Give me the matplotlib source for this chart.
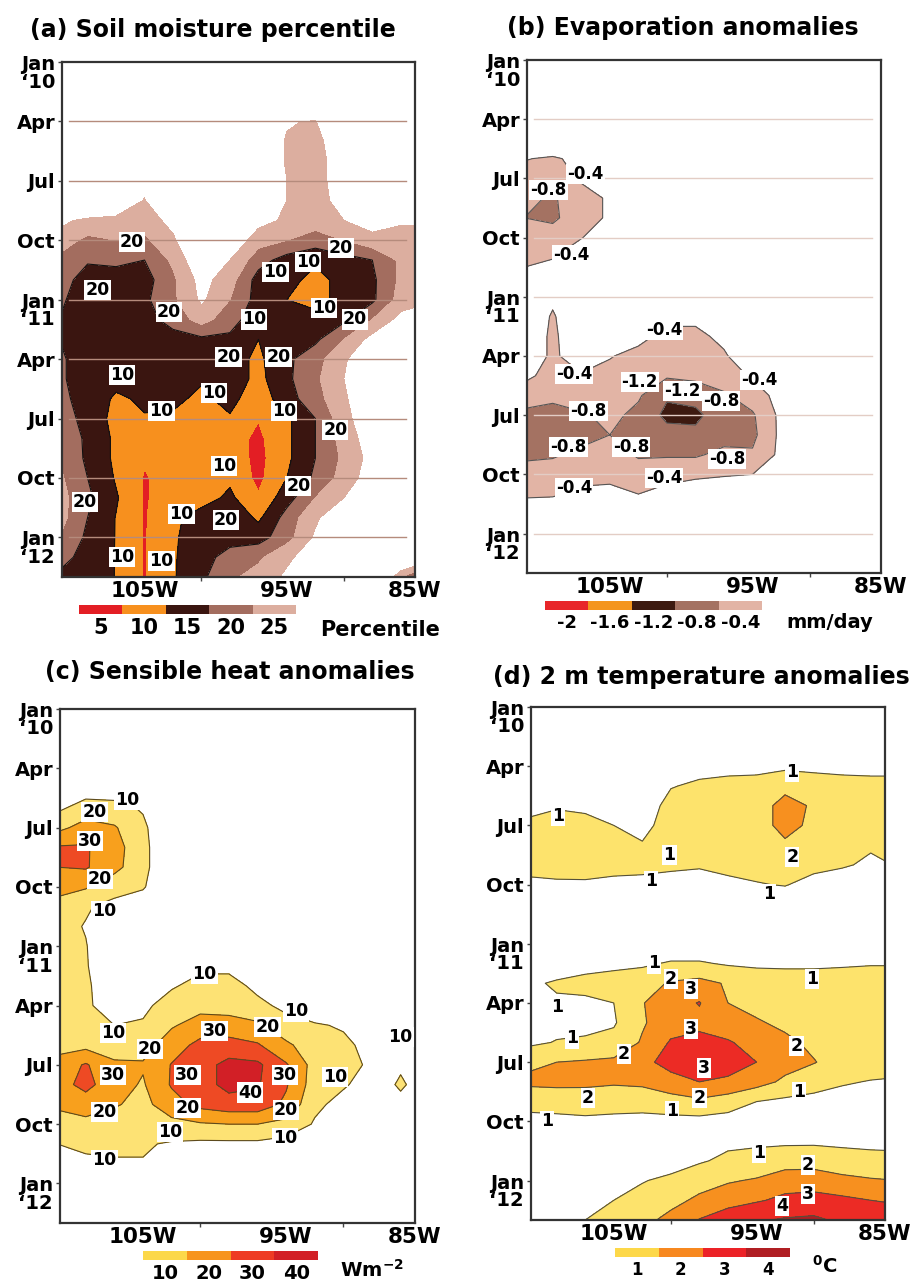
import numpy as np
import matplotlib
matplotlib.use("Agg")
import matplotlib.pyplot as plt
from matplotlib.colors import ListedColormap, BoundaryNorm
from matplotlib.cm import ScalarMappable
from matplotlib.transforms import ScaledTranslation

plt.rcParams["font.family"] = ["DejaVu Sans"]
plt.rcParams["font.weight"] = "bold"

# ------------------------------------------------------------
# grid: longitude (deg E) x month since Jan 2010
# ------------------------------------------------------------
lons = [-110, -108, -106, -104, -102, -100, -98, -96, -94, -92, -90, -88, -86, -84]
months = [0, 1, 2, 3, 4, 5, 6, 7, 8, 9, 10, 11, 12, 13, 14, 15, 16, 17, 18, 19, 20,
          21, 22, 23, 24, 25, 26]

month_ticks = [0, 3, 6, 9, 12, 15, 18, 21, 24]
month_labels = ["Jan\n\u201810", "Apr", "Jul", "Oct", "Jan\n\u201811", "Apr", "Jul", "Oct",
                "Jan\n\u201812"]
lon_label_pos = [-104, -94, -85]
lon_labels = ["105W", "95W", "85W"]
lon_minor = [-100, -90]

# (a) soil moisture percentile
soil_pct = [
    [40, 40, 40, 40, 40, 40, 40, 40, 40, 40, 40, 40, 40, 40],
    [40, 40, 40, 40, 40, 40, 40, 40, 40, 40, 40, 40, 40, 40],
    [40, 40, 40, 40, 40, 40, 40, 40, 40, 40, 40, 40, 40, 40],
    [40, 40, 40, 40, 40, 40, 40, 40, 25.5, 24.5, 40, 40, 40, 40],
    [40, 40, 40, 40, 40, 40, 40, 30, 24.5, 23, 30, 40, 40, 40],
    [40, 40, 40, 40, 40, 40, 40, 30, 24.5, 23, 28, 40, 40, 40],
    [40, 40, 40, 28, 40, 40, 40, 30, 25, 23, 28, 40, 40, 40],
    [40, 40, 32, 24.5, 40, 40, 40, 29, 25, 23, 27, 40, 40, 40],
    [27, 23, 23, 22, 27, 40, 34, 27, 24, 22, 25, 28, 26, 27],
    [22, 19, 20, 19, 24, 34, 30, 22, 20, 18, 20, 23, 22, 20],
    [19, 15.5, 16, 15, 21, 30, 25, 17, 13, 10.5, 13, 15, 21, 19],
    [17, 13, 13, 13, 19, 27, 22, 13, 11, 9, 11, 14, 21, 20],
    [16, 12, 12, 14, 19, 26, 20, 13, 10, 9, 11, 14, 22, 24],
    [15, 12, 12, 13, 17, 22, 17, 12, 11.5, 11, 14, 20, 27, 30],
    [15, 11, 12, 12, 13, 14, 14, 10, 12, 14, 20, 27, 32, 32],
    [16, 12, 11, 12, 12, 12, 12, 9, 14, 18, 24, 32, 40, 40],
    [16, 12, 11, 12, 12, 10.5, 13, 8.5, 14, 19, 25, 33, 40, 40],
    [17, 12, 9.5, 10.5, 11, 9, 11.5, 7, 13, 18, 24, 31, 40, 40],
    [18, 13, 8.5, 9.8, 9.3, 8, 9.5, 5.2, 9, 15, 23, 30, 40, 40],
    [19, 14, 9, 7, 7, 7, 7, 4, 9, 15, 22, 28, 40, 40],
    [20, 14, 9, 5.5, 7, 7, 8, 3.5, 9, 15, 21, 27, 40, 40],
    [21, 15, 9.5, 4.6, 7, 8, 9, 3.8, 10, 16, 22, 28, 40, 40],
    [22, 16, 10.5, 4.6, 7, 8, 11, 5.5, 13, 20, 25, 32, 40, 40],
    [22, 15, 9.8, 4.6, 9, 12, 14, 9, 17, 24, 30, 36, 40, 40],
    [20, 14, 9.8, 4.6, 9.5, 12, 13, 13, 18, 26, 32, 40, 40, 40],
    [17, 13, 9.8, 4.6, 9.5, 13, 17, 19, 24, 28, 34, 40, 36, 30],
    [14, 13, 9.8, 4.6, 9.5, 14, 19, 22, 26, 30, 36, 40, 20, 8],
]

# (b) evaporation anomalies, mm/day
evap_anom = [
    [0, 0, 0, 0, 0, 0, 0, 0, 0, 0, 0, 0, 0, 0],
    [0, 0, 0, 0, 0, 0, 0, 0, 0, 0, 0, 0, 0, 0],
    [0, 0, 0, 0, 0, 0, 0, 0, 0, 0, 0, 0, 0, 0],
    [0, 0, 0, 0, 0, 0, 0, 0, 0, 0, 0, 0, 0, 0],
    [0, 0, 0, 0, 0, 0, 0, 0, 0, 0, 0, 0, 0, 0],
    [-0.38, -0.45, -0.3, 0, 0, 0, 0, 0, 0, 0, 0, 0, 0, 0],
    [-0.55, -0.6, -0.35, -0.1, 0, 0, 0, 0, 0, 0, 0, 0, 0, 0],
    [-0.7, -0.85, -0.55, -0.35, 0, 0, 0, 0, 0, 0, 0, 0, 0, 0],
    [-0.8, -0.88, -0.55, -0.35, 0, 0, 0, 0, 0, 0, 0, 0, 0, 0],
    [-0.6, -0.6, -0.42, -0.1, 0, 0, 0, 0, 0, 0, 0, 0, 0, 0],
    [-0.5, -0.42, -0.1, 0, 0, 0, 0, 0, 0, 0, 0, 0, 0, 0],
    [-0.3, -0.2, 0, 0, 0, 0, 0, 0, 0, 0, 0, 0, 0, 0],
    [0, -0.3, 0, 0, 0, 0, 0, 0, 0, 0, 0, 0, 0, 0],
    [0, -0.45, 0, 0, 0, -0.3, -0.3, 0, 0, 0, 0, 0, 0, 0],
    [0, -0.5, 0, 0, -0.3, -0.5, -0.5, -0.3, 0, 0, 0, 0, 0, 0],
    [0, -0.5, -0.1, -0.38, -0.5, -0.6, -0.6, -0.45, -0.1, 0, 0, 0, 0, 0],
    [-0.3, -0.55, -0.45, -0.5, -0.6, -0.75, -0.7, -0.6, -0.35, 0, 0, 0, 0, 0],
    [-0.6, -0.7, -0.6, -0.6, -0.75, -1.15, -1.05, -0.85, -0.6, -0.25, 0, 0, 0, 0],
    [-0.9, -0.95, -0.85, -0.7, -0.9, -1.3, -1.3, -0.95, -0.85, -0.3, 0, 0, 0, 0],
    [-1.0, -1.0, -0.95, -0.8, -0.9, -1.05, -1.1, -0.95, -0.9, -0.3, 0, 0, 0, 0],
    [-0.9, -0.85, -0.7, -0.6, -0.85, -0.85, -0.85, -0.7, -0.75, -0.3, 0, 0, 0, 0],
    [-0.6, -0.6, -0.55, -0.5, -0.6, -0.5, -0.5, -0.45, -0.4, -0.1, 0, 0, 0, 0],
    [-0.45, -0.45, -0.3, -0.3, -0.4, -0.3, -0.1, 0, 0, 0, 0, 0, 0, 0],
    [-0.2, -0.1, 0, 0, 0, 0, 0, 0, 0, 0, 0, 0, 0, 0],
    [0, 0, 0, 0, 0, 0, 0, 0, 0, 0, 0, 0, 0, 0],
    [0, 0, 0, 0, 0, 0, 0, 0, 0, 0, 0, 0, 0, 0],
    [0, 0, 0, 0, 0, 0, 0, 0, 0, 0, 0, 0, 0, 0],
]

# (c) sensible heat anomalies, W m-2
sens_anom = [
    [0, 0, 0, 0, 0, 0, 0, 0, 0, 0, 0, 0, 0, 0],
    [0, 0, 0, 0, 0, 0, 0, 0, 0, 0, 0, 0, 0, 0],
    [0, 0, 0, 0, 0, 0, 0, 0, 0, 0, 0, 0, 0, 0],
    [0, 0, 0, 0, 0, 0, 0, 0, 0, 0, 0, 0, 0, 0],
    [0, 5, 5, 0, 0, 0, 0, 0, 0, 0, 0, 0, 0, 0],
    [8, 14, 13, 9, 0, 0, 0, 0, 0, 0, 0, 0, 0, 0],
    [17, 24, 21, 12, 0, 0, 0, 0, 0, 0, 0, 0, 0, 0],
    [31, 31, 24, 13, 0, 0, 0, 0, 0, 0, 0, 0, 0, 0],
    [30, 31, 23, 13, 0, 0, 0, 0, 0, 0, 0, 0, 0, 0],
    [24, 21, 14, 11, 0, 0, 0, 0, 0, 0, 0, 0, 0, 0],
    [16, 11, 7, 4, 0, 0, 0, 0, 0, 0, 0, 0, 0, 0],
    [13, 9.5, 4, 0, 0, 0, 0, 0, 0, 0, 0, 0, 0, 0],
    [14, 10.4, 3, 0, 0, 0, 0, 0, 0, 0, 0, 0, 0, 0],
    [15, 10.6, 4, 0, 3, 8, 8, 2, 0, 0, 0, 0, 0, 0],
    [15, 11, 6, 4, 9, 13, 13, 8, 3, 0, 0, 0, 0, 0],
    [14, 11, 7, 8, 14, 17, 16, 12, 8, 3, 0, 0, 0, 0],
    [14, 12, 10, 11, 19, 24, 24, 22, 13, 11, 9, 2, 0, 0],
    [16, 17, 14, 16, 25, 33, 34, 31, 22, 14, 12, 7, 0, 0],
    [24, 31, 22, 21, 30.5, 36, 43, 42, 31, 16, 12, 9, 9, 4],
    [26, 33, 24, 19, 31, 36, 43, 41, 31, 15, 11, 6, 11, 6],
    [22, 25, 21, 17, 26, 33, 36, 36, 28, 12, 7, 3, 8, 4],
    [15, 17, 15, 13, 17, 19, 20, 20, 17, 9, 3, 0, 0, 0],
    [10, 12, 12, 11, 9, 8, 8, 8, 6, 2, 0, 0, 0, 0],
    [6, 8, 9, 9.5, 5, 0, 0, 0, 0, 0, 0, 0, 0, 0],
    [0, 0, 0, 0, 0, 0, 0, 0, 0, 0, 0, 0, 0, 0],
    [0, 0, 0, 0, 0, 0, 0, 0, 0, 0, 0, 0, 0, 0],
    [0, 0, 0, 0, 0, 0, 0, 0, 0, 0, 0, 0, 0, 0],
]

# (d) 2 m temperature anomalies, deg C
t2m_anom = [
    [0.3, 0.3, 0.3, 0.3, 0.3, 0.3, 0.3, 0.3, 0.3, 0.3, 0.3, 0.3, 0.3, 0.3],
    [0.3, 0.3, 0.3, 0.3, 0.3, 0.3, 0.3, 0.3, 0.3, 0.3, 0.3, 0.3, 0.3, 0.3],
    [0.4, 0.4, 0.4, 0.4, 0.4, 0.4, 0.4, 0.4, 0.4, 0.4, 0.4, 0.4, 0.4, 0.4],
    [0.3, 0.3, 0.3, 0.3, 0.3, 0.6, 0.7, 0.8, 0.8, 0.8, 0.8, 0.8, 0.8, 0.8],
    [0.3, 0.3, 0.3, 0.3, 0.3, 0.95, 1.15, 1.2, 1.25, 1.75, 1.4, 1.25, 1.2, 1.2],
    [0.7, 0.9, 0.8, 0.6, 0.5, 1.3, 1.45, 1.5, 1.6, 2.3, 1.9, 1.5, 1.45, 1.45],
    [1.2, 1.4, 1.3, 1.0, 0.8, 1.3, 1.5, 1.6, 1.6, 2.3, 1.8, 1.6, 1.5, 1.5],
    [1.4, 1.5, 1.5, 1.3, 1.05, 1.3, 1.4, 1.5, 1.5, 1.85, 1.5, 1.3, 1.1, 1.4],
    [1.3, 1.4, 1.3, 1.2, 1.2, 1.15, 1.1, 1.3, 1.3, 1.3, 1.25, 1.1, 0.85, 1.05],
    [0.8, 0.85, 0.9, 0.85, 0.8, 0.7, 0.6, 0.75, 0.95, 1.05, 0.7, 0.5, 0.4, 0.4],
    [0.4, 0.4, 0.4, 0.4, 0.4, 0.4, 0.4, 0.4, 0.4, 0.4, 0.4, 0.4, 0.4, 0.4],
    [0.3, 0.3, 0.3, 0.3, 0.3, 0.3, 0.3, 0.3, 0.3, 0.3, 0.3, 0.3, 0.3, 0.3],
    [0.3, 0.3, 0.3, 0.3, 0.3, 0.3, 0.3, 0.3, 0.3, 0.3, 0.3, 0.3, 0.3, 0.3],
    [0.4, 0.5, 0.7, 0.8, 0.85, 1.1, 1.1, 0.9, 0.85, 0.85, 0.85, 0.9, 0.95, 0.95],
    [0.85, 1.1, 1.25, 1.35, 1.6, 2.1, 2.3, 1.9, 1.5, 1.4, 1.4, 1.4, 1.4, 1.4],
    [0.6, 0.9, 0.85, 1.0, 1.95, 2.6, 3.05, 2.0, 1.7, 1.5, 1.5, 1.5, 1.5, 1.5],
    [0.55, 0.7, 0.8, 0.9, 1.9, 2.55, 2.75, 2.4, 2.1, 1.8, 1.6, 1.5, 1.5, 1.5],
    [0.8, 1.05, 1.1, 1.3, 2.1, 3.1, 3.3, 3.1, 2.6, 2.2, 1.8, 1.5, 1.5, 1.5],
    [1.8, 2.0, 2.1, 2.2, 2.7, 3.4, 3.6, 3.5, 3.0, 2.4, 2.05, 1.6, 1.5, 1.5],
    [2.2, 2.25, 2.2, 2.1, 2.2, 2.6, 3.0, 2.8, 2.4, 1.8, 1.4, 1.1, 0.95, 0.85],
    [1.35, 1.4, 1.5, 1.5, 1.4, 1.6, 1.8, 1.5, 1.0, 0.8, 0.7, 0.6, 0.5, 0.5],
    [0.7, 0.75, 0.8, 0.7, 0.7, 0.7, 0.7, 0.6, 0.5, 0.4, 0.4, 0.4, 0.4, 0.4],
    [0.3, 0.3, 0.3, 0.3, 0.3, 0.3, 0.5, 0.8, 0.85, 0.85, 0.85, 0.85, 0.8, 0.8],
    [0.3, 0.3, 0.3, 0.3, 0.4, 0.6, 0.9, 1.2, 1.3, 1.5, 1.55, 1.3, 1.25, 1.2],
    [0.3, 0.3, 0.4, 0.6, 0.95, 1.2, 1.6, 1.9, 2.1, 2.6, 2.6, 2.3, 2.1, 2.0],
    [0.3, 0.4, 0.7, 1.0, 1.3, 1.7, 2.2, 2.6, 2.9, 3.2, 3.3, 3.2, 3.0, 2.9],
    [0.6, 0.8, 1.0, 1.3, 1.7, 2.3, 3.05, 3.6, 3.9, 4.1, 4.2, 3.8, 3.5, 3.4],
]

# contour labels (lon, month, text)
soil_labels = [
    (-104.9, 9.1, "20"), (-107.3, 11.5, "20"), (-102.3, 12.6, "20"), (-96.3, 13.0, "10"),
    (-94.8, 10.6, "10"), (-92.5, 10.1, "10"), (-90.2, 9.4, "20"), (-91.4, 12.4, "10"),
    (-89.2, 13.0, "20"), (-98.1, 14.9, "20"), (-94.6, 14.9, "20"), (-105.6, 15.8, "10"),
    (-99.1, 16.7, "10"), (-102.8, 17.6, "10"), (-94.2, 17.6, "10"), (-90.6, 18.6, "20"),
    (-98.4, 20.4, "10"), (-93.2, 21.4, "20"), (-108.2, 22.2, "20"), (-101.4, 22.8, "10"),
    (-98.3, 23.1, "20"), (-105.6, 25.0, "10"), (-102.8, 25.2, "10"),
]
evap_labels = [
    (-108.3, 6.6, "-0.8"), (-105.7, 5.8, "-0.4"), (-106.7, 9.9, "-0.4"),
    (-100.2, 13.7, "-0.4"), (-106.5, 15.9, "-0.4"), (-101.9, 16.3, "-1.2"),
    (-98.9, 16.8, "-1.2"), (-93.5, 16.2, "-0.4"), (-96.2, 17.3, "-0.8"),
    (-105.5, 17.8, "-0.8"), (-106.9, 19.6, "-0.8"), (-102.5, 19.6, "-0.8"),
    (-95.8, 20.2, "-0.8"), (-106.5, 21.7, "-0.4"), (-100.2, 21.2, "-0.4"),
]
sens_labels = [
    (-107.4, 5.2, "20"), (-105.1, 4.6, "10"), (-107.7, 6.7, "30"), (-107.0, 8.6, "20"),
    (-106.7, 10.2, "10"), (-99.7, 13.4, "10"), (-106.1, 16.4, "10"), (-93.3, 15.3, "10"),
    (-103.5, 17.2, "20"), (-99.0, 16.3, "30"), (-95.3, 16.1, "20"), (-86.0, 16.6, "10"),
    (-106.1, 18.5, "30"), (-100.9, 18.5, "30"), (-94.1, 18.5, "30"), (-90.6, 18.6, "10"),
    (-96.5, 19.4, "40"), (-106.7, 20.4, "20"), (-100.9, 20.2, "20"), (-94.0, 20.3, "20"),
    (-102.1, 21.4, "10"), (-94.1, 21.7, "10"), (-106.7, 22.8, "10"),
]
t2m_labels = [
    (-107.9, 5.5, "1"), (-100.1, 7.5, "1"), (-101.4, 8.8, "1"), (-93.1, 9.5, "1"),
    (-91.5, 3.3, "1"), (-91.5, 7.6, "2"), (-101.2, 13.0, "1"), (-100.0, 13.8, "2"),
    (-98.6, 14.3, "3"), (-90.1, 13.8, "1"), (-108.0, 15.2, "1"), (-98.6, 16.3, "3"),
    (-106.9, 16.8, "1"), (-103.3, 17.6, "2"), (-91.2, 17.2, "2"), (-97.7, 18.3, "3"),
    (-91.0, 19.5, "1"), (-105.8, 19.8, "2"), (-98.0, 19.8, "2"), (-99.9, 20.5, "1"),
    (-108.7, 21.0, "1"), (-93.8, 22.6, "1"), (-90.4, 23.2, "2"), (-90.4, 24.7, "3"),
    (-92.2, 25.3, "4"),
]

# ------------------------------------------------------------
fig = plt.figure(figsize=(9.17, 12.81), dpi=100)
W, H = 917.0, 1281.0


def px_axes(left, top, right, bottom):
    return fig.add_axes([left / W, 1 - bottom / H, (right - left) / W, (bottom - top) / H])


def draw_panel(ax, field, levels, colors, line_levels, line_color, labels, label_size,
               grid_color=None):
    z = np.array(field, dtype=float)
    ax.contourf(lons, months, z, levels=levels, colors=colors, zorder=1)
    ax.contour(lons, months, z, levels=line_levels, colors=line_color, linewidths=0.8,
               linestyles="solid", zorder=2)
    if grid_color is not None:
        for m in month_ticks[1:]:
            ax.axhline(m, xmin=0.02, xmax=0.975, color=grid_color, lw=1.0, zorder=3)
    for lon, m, txt in labels:
        ax.text(lon, m, txt, ha="center", va="center", fontsize=label_size,
                fontweight="bold", zorder=5,
                bbox=dict(boxstyle="square,pad=0.06", fc="white", ec="none"))
    ax.set_xlim(-109.8, -85)
    ax.set_ylim(26, 0)
    ax.set_xticks(lon_label_pos)
    ax.set_xticklabels(lon_labels, fontsize=15.5, fontweight="bold")
    ax.set_xticks(lon_minor, minor=True)
    ax.tick_params(axis="x", which="major", length=0, pad=3)
    ax.tick_params(axis="x", which="minor", length=3, width=1, color="#444444")
    ax.set_yticks(month_ticks)
    ax.set_yticklabels(month_labels, fontsize=14, fontweight="bold", linespacing=0.9)
    ax.tick_params(axis="y", length=3, width=1, color="#444444", pad=2)
    shift = ScaledTranslation(0, -0.1, fig.dpi_scale_trans)
    for lab in ax.get_yticklabels():
        if "\n" in lab.get_text():
            lab.set_transform(lab.get_transform() + shift)
    for sp in ax.spines.values():
        sp.set_color("#333333")
        sp.set_linewidth(1.6)


def draw_bar(left, top, right, bottom, bounds, colors, labels, size):
    cax = px_axes(left, top, right, bottom)
    cmap = ListedColormap(colors)
    norm = BoundaryNorm(bounds, cmap.N)
    centers = [(a + b) / 2 for a, b in zip(bounds[:-1], bounds[1:])]
    cb = fig.colorbar(ScalarMappable(norm=norm, cmap=cmap), cax=cax,
                      orientation="horizontal", ticks=centers)
    cb.set_ticklabels(labels)
    cb.outline.set_visible(False)
    cax.minorticks_off()
    cax.tick_params(which="both", length=0, labelsize=size, pad=3)
    for t in cax.get_xticklabels():
        t.set_fontweight("bold")
    return cax


# (a) soil moisture
soil_colors = ["#e31e24", "#f7901e", "#3a1510", "#a36d5f", "#dcae9f"]
ax_a = px_axes(62, 62, 415, 577)
draw_panel(ax_a, soil_pct, [0, 5, 10, 15, 20, 25], soil_colors, [10, 15], "#111111",
           soil_labels, 12.5, grid_color="#b58b7c")
draw_bar(79, 605, 296, 614, [0, 5, 10, 15, 20, 25], soil_colors,
         ["5", "10", "15", "20", "25"], 15)
fig.text(380 / W, 1 - 630 / H, "Percentile", fontsize=15, fontweight="bold",
         ha="center", va="center")
fig.text(30 / W, 1 - 30 / H, "(a) Soil moisture percentile", fontsize=17,
         fontweight="bold", ha="left", va="center")

# (b) evaporation
evap_colors = ["#e8262a", "#f4951e", "#3d1a10", "#a47262", "#e2b4a5"]
ax_b = px_axes(527, 60, 881, 573)
draw_panel(ax_b, evap_anom, [-2.4, -2.0, -1.6, -1.2, -0.8, -0.4], evap_colors,
           [-1.2, -0.8, -0.4], "#555555", evap_labels, 12, grid_color="#e3cdc5")
draw_bar(545, 601, 762, 610, [-2.4, -2.0, -1.6, -1.2, -0.8, -0.4], evap_colors,
         ["-2", "-1.6", "-1.2", "-0.8", "-0.4"], 13)
fig.text(830 / W, 1 - 622 / H, "mm/day", fontsize=14, fontweight="bold",
         ha="center", va="center")
fig.text(507 / W, 1 - 28 / H, "(b) Evaporation anomalies", fontsize=17,
         fontweight="bold", ha="left", va="center")

# (c) sensible heat
sens_colors = ["#fde274", "#f8a01d", "#ee4a24", "#d21f26"]
ax_c = px_axes(60, 709, 415, 1223)
draw_panel(ax_c, sens_anom, [10, 20, 30, 40, 60], sens_colors, [10, 20, 30, 40],
           "#5c4a1e", sens_labels, 12.5)
draw_bar(143, 1251, 318, 1260, [10, 20, 30, 40, 50], ["#fcd84a", "#f7941d", "#ee3b24",
                                                      "#d21f26"],
         ["10", "20", "30", "40"], 14)
fig.text(372 / W, 1 - 1270 / H, "Wm$^{\\mathbf{-2}}$", fontsize=14, fontweight="bold",
         ha="center", va="center")
fig.text(45 / W, 1 - 672 / H, "(c) Sensible heat anomalies", fontsize=17,
         fontweight="bold", ha="left", va="center")

# (d) 2 m temperature
t2m_colors = ["#fde36c", "#f7901f", "#ec2b25", "#b01e23"]
ax_d = px_axes(531, 707, 885, 1220)
draw_panel(ax_d, t2m_anom, [1, 2, 3, 4, 6], t2m_colors, [1, 2, 3, 4], "#55503a",
           t2m_labels, 12.5)
draw_bar(615, 1248, 790, 1257, [1, 2, 3, 4, 5], ["#fdd849", "#f7881f", "#ec2227",
                                                 "#b01e23"],
         ["1", "2", "3", "4"], 12)
fig.text(825 / W, 1 - 1266 / H, "$^{\\mathbf{0}}$C", fontsize=14, fontweight="bold",
         ha="center", va="center")
fig.text(493 / W, 1 - 677 / H, "(d) 2 m temperature anomalies", fontsize=17,
         fontweight="bold", ha="left", va="center")

fig.savefig("out.png", dpi=100)
